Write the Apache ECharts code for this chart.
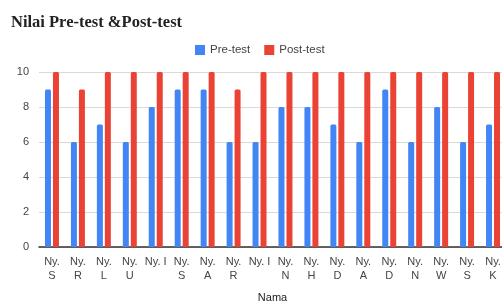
<!DOCTYPE html>
<html>
<head>
<meta charset="utf-8">
<script src="https://cdn.jsdelivr.net/npm/echarts@6/dist/echarts.min.js"></script>
<style>
  html, body { margin: 0; padding: 0; background: #fff; }
  #chart { width: 502px; height: 304px; }
</style>
</head>
<body>
<div id="chart"></div>
<script>
var names = ['Ny. S', 'Ny. R', 'Ny. L', 'Ny. U', 'Ny. I', 'Ny. S', 'Ny. A', 'Ny. R', 'Ny. I',
    'Ny. N', 'Ny. H', 'Ny. D', 'Ny. A', 'Ny. D', 'Ny. N', 'Ny. W', 'Ny. S', 'Ny. K'];
var preTest = [9, 6, 7, 6, 8, 9, 9, 6, 6, 8, 8, 7, 6, 9, 6, 8, 6, 7];
var postTest = [10, 9, 10, 10, 10, 10, 10, 9, 10, 10, 10, 10, 10, 10, 10, 10, 10, 10];
var yTicks = [0, 2, 4, 6, 8, 10];

var chart = echarts.init(document.getElementById('chart'));
var font = 'Liberation Sans, Arial, sans-serif';

chart.setOption({
    animation: false,
    title: {
        text: 'Nilai Pre-test &Post-test',
        left: 6,
        top: 9,
        textStyle: { fontFamily: 'Liberation Serif, Times New Roman, serif', fontSize: 16.5, fontWeight: 'bold', color: '#222' }
    },
    legend: {
        data: ['Pre-test', 'Post-test'],
        left: 190,
        top: 39,
        itemWidth: 10,
        itemHeight: 10,
        itemGap: 14,
        icon: 'rect',
        textStyle: { fontFamily: font, fontSize: 11.5, color: '#444' }
    },
    grid: { left: 39, top: 72, bottom: 57, width: 467, containLabel: false, outerBoundsMode: 'none' },
    xAxis: {
        type: 'category',
        data: names,
        name: 'Nama',
        nameLocation: 'middle',
        nameGap: 45,
        nameTextStyle: { fontFamily: font, fontSize: 11, color: '#222' },
        axisTick: { show: false },
        axisLine: { lineStyle: { color: '#333', width: 1.5 } },
        axisLabel: {
            interval: 0,
            margin: 8,
            fontFamily: font,
            fontSize: 11,
            color: '#444',
            lineHeight: 14,
            formatter: function (v) { return v === 'Ny. I' ? v : v.replace(' ', '\n'); }
        }
    },
    yAxis: {
        type: 'value',
        min: yTicks[0],
        max: yTicks[yTicks.length - 1],
        interval: 2,
        axisLabel: { fontFamily: font, fontSize: 11, color: '#444', margin: 10 },
        splitLine: { lineStyle: { color: '#d9d9d9' } }
    },
    series: [
        {
            name: 'Pre-test',
            type: 'bar',
            data: preTest,
            barWidth: 6,
            barGap: '33%',
            itemStyle: { color: '#4285f4', borderRadius: [1.5, 1.5, 0, 0] }
        },
        {
            name: 'Post-test',
            type: 'bar',
            data: postTest,
            barWidth: 6,
            itemStyle: { color: '#ea4335', borderRadius: [1.5, 1.5, 0, 0] }
        }
    ]
});
</script>
</body>
</html>
